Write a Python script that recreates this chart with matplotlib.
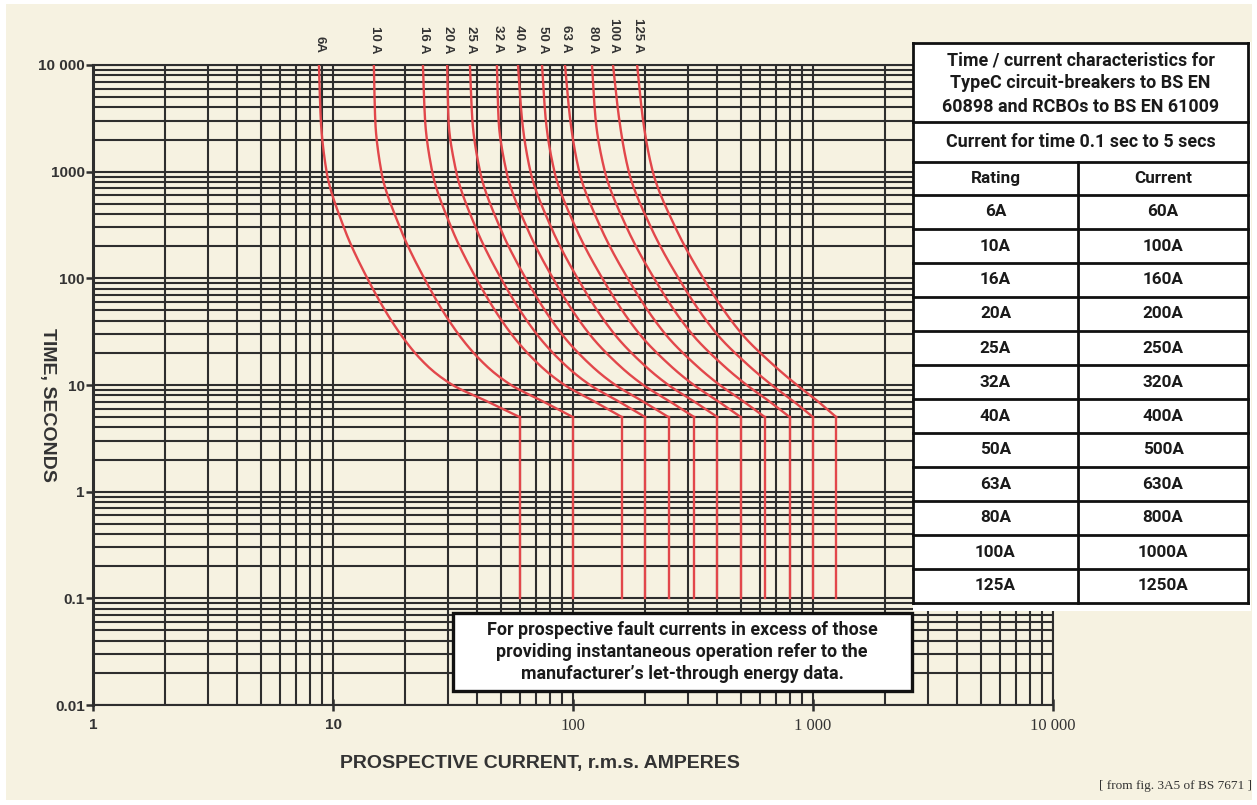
import numpy as np
import matplotlib.pyplot as plt
from matplotlib.patches import Rectangle
from matplotlib.lines import Line2D
from matplotlib.ticker import LogLocator, NullFormatter

W, H = 1257, 805
CREAM = '#f6f2e1'
GRID = '#2e2e2e'
RED = '#e2474b'
INK = '#333333'

# breaker ratings and the labels written above each curve
ratings = [6, 10, 16, 20, 25, 32, 40, 50, 63, 80, 100, 125]
rating_tags = ['6A', '10 A', '16 A', '20 A', '25 A', '32 A', '40 A', '50 A',
               '63 A', '80 A', '100 A', '125 A']

# table: current for time 0.1 sec to 5 secs
table_rating = ['6A', '10A', '16A', '20A', '25A', '32A', '40A', '50A',
                '63A', '80A', '100A', '125A']
table_current = ['60A', '100A', '160A', '200A', '250A', '320A', '400A', '500A',
                 '630A', '800A', '1000A', '1250A']
instant_current = [60, 100, 160, 200, 250, 320, 400, 500, 630, 800, 1000, 1250]
instant_time = [5, 0.1]

curve_times = [10000, 3000, 1000, 300, 100, 30, 15, 10, 7, 5]
curve_6A = [8.74, 8.9, 9.4, 11.1, 13.9, 19.1, 24.8, 31.5, 44, 60]
curve_10A = [14.8, 15.0, 15.9, 19.0, 24.0, 33.3, 43.7, 55.2, 75.1, 100]
curve_16A = [23.7, 24.2, 25.9, 31.1, 39.5, 55.4, 73.4, 92.2, 122.8, 160]
curve_20A = [29.9, 30.3, 32.6, 39.3, 50.1, 70.6, 93.9, 117.8, 155.2, 200]
curve_25A = [37.2, 38.1, 41.0, 49.6, 63.5, 89.8, 119.9, 150.1, 195.9, 250]
curve_32A = [48.2, 49.0, 52.8, 64.2, 82.5, 117.1, 157.1, 196.3, 253.4, 320]
curve_40A = [59, 61.4, 66.5, 81.1, 104.5, 148.8, 200.3, 249.8, 319.8, 400]
curve_50A = [74.3, 77.1, 83.7, 102.5, 132.5, 189.4, 256, 318.7, 404, 500]
curve_63A = [92.6, 97.5, 106.2, 130.4, 169.0, 242.5, 328.8, 408.7, 513.8, 630]
curve_80A = [120, 124.4, 135.8, 167.4, 217.7, 313.4, 426.6, 529.2, 659.2, 800]
curve_100A = [146.8, 156.1, 170.8, 211.3, 275.4, 397.9, 543.1, 672.8, 831.5, 1000]
curve_125A = [185, 196, 215, 267, 349, 506, 693, 857, 1050, 1250]
curves = [curve_6A, curve_10A, curve_16A, curve_20A, curve_25A, curve_32A,
          curve_40A, curve_50A, curve_63A, curve_80A, curve_100A, curve_125A]

note_text = ("For prospective fault currents in excess of those\n"
             "providing instantaneous operation refer to the\n"
             "manufacturer\u2019s let-through energy data.")
title_text = ("Time / current characteristics for\n"
              "TypeC circuit-breakers to BS EN\n"
              "60898 and RCBOs to BS EN 61009")


def fx(x):
    return x / W


def fy(y):
    return 1 - y / H


def smooth_curve(times, currents, n=150):
    # monotone cubic through the read points, in log-log space
    u = -np.log10(np.asarray(times, float))
    v = np.log10(np.asarray(currents, float))
    h = np.diff(u)
    d = np.diff(v) / h
    m = np.empty_like(v)
    m[0], m[-1] = d[0], d[-1]
    for k in range(1, len(v) - 1):
        if d[k - 1] * d[k] > 0:
            w1 = 2 * h[k] + h[k - 1]
            w2 = h[k] + 2 * h[k - 1]
            m[k] = (w1 + w2) / (w1 / d[k - 1] + w2 / d[k])
        else:
            m[k] = 0
    us = np.linspace(u[0], u[-1], n)
    i = np.clip(np.searchsorted(u, us, side='right') - 1, 0, len(h) - 1)
    s = (us - u[i]) / h[i]
    vs = ((2 * s**3 - 3 * s**2 + 1) * v[i] + (s**3 - 2 * s**2 + s) * h[i] * m[i]
          + (-2 * s**3 + 3 * s**2) * v[i + 1] + (s**3 - s**2) * h[i] * m[i + 1])
    return 10**vs, 10**(-us)


fig = plt.figure(figsize=(W / 100, H / 100), dpi=100)
fig.patch.set_facecolor('white')
fig.add_artist(Rectangle((fx(6), fy(800)), fx(1252) - fx(6), fy(4) - fy(800),
                         transform=fig.transFigure, facecolor=CREAM,
                         edgecolor='none', zorder=-5))

ax = fig.add_axes([fx(93), fy(705), fx(1053) - fx(93), fy(65) - fy(705)])
ax.set_facecolor(CREAM)
ax.set_xscale('log')
ax.set_yscale('log')
ax.set_xlim(1, 10000)
ax.set_ylim(0.01, 10000)
ax.xaxis.set_minor_locator(LogLocator(base=10, subs=np.arange(2, 10), numticks=100))
ax.yaxis.set_minor_locator(LogLocator(base=10, subs=np.arange(2, 10), numticks=100))
ax.xaxis.set_minor_formatter(NullFormatter())
ax.yaxis.set_minor_formatter(NullFormatter())
ax.grid(which='both', color=GRID, lw=1.5, zorder=1)
ax.set_axisbelow(True)
for s in ax.spines.values():
    s.set_color(GRID)
    s.set_linewidth(1.5)
ax.spines['left'].set_linewidth(2.2)
ax.tick_params(which='minor', length=0)

# curves
for cur, ic in zip(curves, instant_current):
    xs, ys = smooth_curve(curve_times, cur)
    ax.plot(xs, ys, color=RED, lw=1.7, zorder=3, solid_joinstyle='round')
    ax.plot([ic, ic], instant_time, color=RED, lw=1.7, zorder=3)

for cur, tag in zip(curves, rating_tags):
    ax.annotate(tag, xy=(cur[0], 10000), xytext=(1, 12), textcoords='offset pixels',
                rotation=270, ha='center', va='bottom', fontsize=9.5,
                fontweight='bold', color=INK, family='Liberation Sans',
                annotation_clip=False)

# ticks
ax.set_yticks([0.01, 0.1, 1, 10, 100, 1000, 10000],
              labels=['0.01', '0.1', '1', '10', '100', '1000', '10 000'])
ax.set_xticks([1, 10, 100, 1000, 10000],
              labels=['1', '10', '100', '1 000', '10 000'])
ax.tick_params(axis='y', which='major', direction='out', length=5, width=1.8,
               color=GRID, pad=1, labelsize=11, labelcolor=INK)
ax.tick_params(axis='x', which='major', direction='inout', length=8, width=1.8,
               color=GRID, pad=5, labelcolor=INK)
for lab in ax.get_yticklabels():
    lab.set_family('Liberation Sans')
    lab.set_fontweight('bold')
for i, lab in enumerate(ax.get_xticklabels()):
    if i < 2:
        lab.set_family('Liberation Sans')
        lab.set_fontweight('bold')
        lab.set_fontsize(11)
    else:
        lab.set_family('Liberation Serif')
        lab.set_fontsize(12)

fig.text(fx(540), fy(763), 'PROSPECTIVE CURRENT, r.m.s. AMPERES', ha='center',
         va='center', fontsize=14, fontweight='bold', color=INK,
         family='Liberation Sans')
fig.text(fx(47), fy(405), 'TIME, SECONDS', ha='center', va='center',
         rotation=270, fontsize=14, fontweight='bold', color=INK,
         family='Liberation Sans')
fig.text(fx(1252), fy(786), '[ from fig. 3A5 of BS 7671 ]', ha='right',
         va='center', fontsize=9.5, color=INK, family='Liberation Serif')

# table
tx0, tx1, tx2 = 913, 1078, 1248
row_edges = [43, 122, 162, 195] + [195 + 34 * (i + 1) for i in range(len(ratings))]
fig.add_artist(Rectangle((fx(913), fy(611)), fx(1251) - fx(913), fy(42) - fy(611),
                         transform=fig.transFigure, facecolor='white',
                         edgecolor='none', zorder=5))
for y in row_edges:
    fig.add_artist(Line2D([fx(tx0), fx(tx2)], [fy(y), fy(y)], color='#111111',
                          lw=2, zorder=6))
for x in (tx0, tx2):
    fig.add_artist(Line2D([fx(x), fx(x)], [fy(row_edges[0]), fy(row_edges[-1])],
                          color='#111111', lw=2, zorder=6))
fig.add_artist(Line2D([fx(tx1), fx(tx1)], [fy(row_edges[2]), fy(row_edges[-1])],
                      color='#111111', lw=2, zorder=6))

tfont = dict(family='Roboto', fontweight='bold', fontsize=12.3, color='#1a1a1a',
             ha='center', va='center', zorder=7)
big_font = dict(tfont, fontsize=12.9)
fig.text(fx((tx0 + tx2) / 2), fy((row_edges[0] + row_edges[1]) / 2 + 1), title_text,
         linespacing=1.38, **big_font)
fig.text(fx((tx0 + tx2) / 2), fy((row_edges[1] + row_edges[2]) / 2),
         'Current for time 0.1 sec to 5 secs', **big_font)
fig.text(fx((tx0 + tx1) / 2), fy((row_edges[2] + row_edges[3]) / 2), 'Rating', **tfont)
fig.text(fx((tx1 + tx2) / 2), fy((row_edges[2] + row_edges[3]) / 2), 'Current', **tfont)
for i, (r, c) in enumerate(zip(table_rating, table_current)):
    yc = (row_edges[3 + i] + row_edges[4 + i]) / 2
    fig.text(fx((tx0 + tx1) / 2), fy(yc), r, **tfont)
    fig.text(fx((tx1 + tx2) / 2), fy(yc), c, **tfont)

# note box
fig.add_artist(Rectangle((fx(453), fy(691)), fx(912) - fx(453), fy(613) - fy(691),
                         transform=fig.transFigure, facecolor='white',
                         edgecolor='#111111', lw=2.4, zorder=5))
fig.text(fx(682), fy(652), note_text, linespacing=1.3, **big_font)

fig.savefig('out.png', dpi=100, facecolor=fig.get_facecolor())
